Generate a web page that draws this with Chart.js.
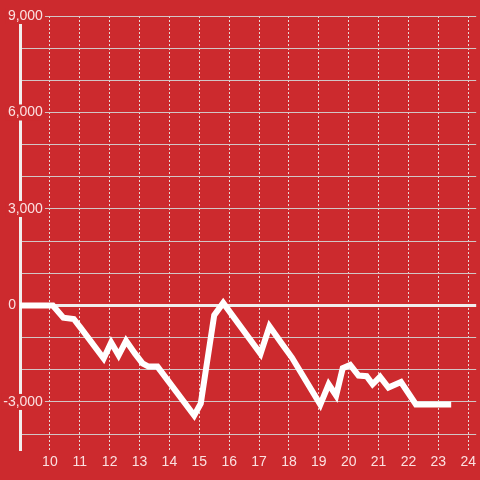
<!DOCTYPE html>
<html>
<head>
<meta charset="utf-8">
<script src="https://cdn.jsdelivr.net/npm/chart.js@4/dist/chart.umd.min.js"></script>
<style>
  html, body { margin: 0; padding: 0; background: #cc2a2e; }
  #wrap { width: 480px; height: 480px; position: relative; }
</style>
</head>
<body>
<div id="wrap"><canvas id="c" width="480" height="480"></canvas></div>
<script>
const hours = [9, 10.1, 10.45, 10.8, 11.05, 11.8, 12.05, 12.3, 12.55, 12.85, 13.1, 13.3, 13.6, 14.83, 15.05, 15.27, 15.5, 15.8, 17.05, 17.35, 17.77, 18.1, 19.05, 19.33, 19.58, 19.8, 20.05, 20.33, 20.6, 20.8, 21.05, 21.33, 21.75, 22.25, 23.33];
const values = [0, 0, -380, -420, -720, -1650, -1150, -1550, -1100, -1500, -1800, -1900, -1900, -3420, -3050, -1700, -300, 80, -1500, -650, -1200, -1620, -3080, -2450, -2800, -1950, -1850, -2180, -2200, -2450, -2220, -2550, -2380, -3080, -3080];
const xTicks = [10, 11, 12, 13, 14, 15, 16, 17, 18, 19, 20, 21, 22, 23, 24];
const yGridTicks = [-4000, -3000, -2000, -1000, 0, 1000, 2000, 3000, 4000, 5000, 6000, 7000, 8000, 9000];
const yLabelTicks = [9000, 6000, 3000, -3000];
const yZeroTicks = [0];
const xMin = 9, xMax = 24.267;
const yMin = -4500, yMax = 9000;

const RED = '#cc2a2e';
const TEXT = 'rgba(255,240,240,0.92)';
const FAMILY = "'Liberation Sans', Arial, sans-serif";
const setTicks = arr => scale => { scale.ticks = arr.map(v => ({ value: v })); };

new Chart(document.getElementById('c'), {
  type: 'line',
  data: {
    datasets: [{
      data: hours.map((h, i) => ({ x: h, y: values[i] })),
      borderColor: '#ffffff',
      borderWidth: 6,
      borderCapStyle: 'square',
      pointRadius: 0,
      tension: 0,
      fill: false,
      yAxisID: 'y'
    }]
  },
  options: {
    responsive: false,
    animation: false,
    layout: { padding: { left: 20, top: 16, right: 0, bottom: 5 } },
    plugins: { legend: { display: false }, tooltip: { enabled: false } },
    scales: {
      x: {
        type: 'linear',
        min: xMin, max: xMax,
        afterBuildTicks: setTicks(xTicks),
        grid: { drawTicks: false, color: 'rgba(235,235,235,0.9)', lineWidth: 1 },
        border: { display: false, dash: [2, 2] },
        ticks: {
          padding: 4,
          color: TEXT,
          font: { family: FAMILY, size: 14 },
          maxRotation: 0,
          autoSkip: false,
          callback: v => String(v)
        }
      },
      y: {
        type: 'linear',
        position: 'left',
        min: yMin, max: yMax,
        afterBuildTicks: setTicks(yGridTicks),
        border: { display: true, color: '#f2eeee', width: 3 },
        grid: {
          drawTicks: false,
          color: ctx => (ctx.tick && ctx.tick.value === 0) ? '#f0eded' : 'rgba(210,205,205,0.95)',
          lineWidth: ctx => (ctx.tick && ctx.tick.value === 0) ? 3 : 1
        },
        ticks: { display: false }
      },
      yLab: {
        type: 'linear',
        position: { x: 9.7667 },
        min: yMin, max: yMax,
        afterBuildTicks: setTicks(yLabelTicks),
        border: { display: false },
        grid: { display: false, drawTicks: false },
        ticks: {
          padding: 0,
          color: TEXT,
          font: { family: FAMILY, size: 14, lineHeight: 1 },
          autoSkip: false,
          showLabelBackdrop: true,
          backdropColor: RED,
          backdropPadding: { top: 1, bottom: 1, left: 2, right: 2 },
          callback: v => v.toLocaleString('en-US')
        }
      },
      yZero: {
        type: 'linear',
        position: { x: 8.8667 },
        min: yMin, max: yMax,
        afterBuildTicks: setTicks(yZeroTicks),
        border: { display: false },
        grid: { display: false, drawTicks: false },
        ticks: {
          padding: 0,
          color: TEXT,
          font: { family: FAMILY, size: 14, lineHeight: 1 },
          autoSkip: false,
          callback: v => String(v)
        }
      }
    }
  }
});
</script>
</body>
</html>
